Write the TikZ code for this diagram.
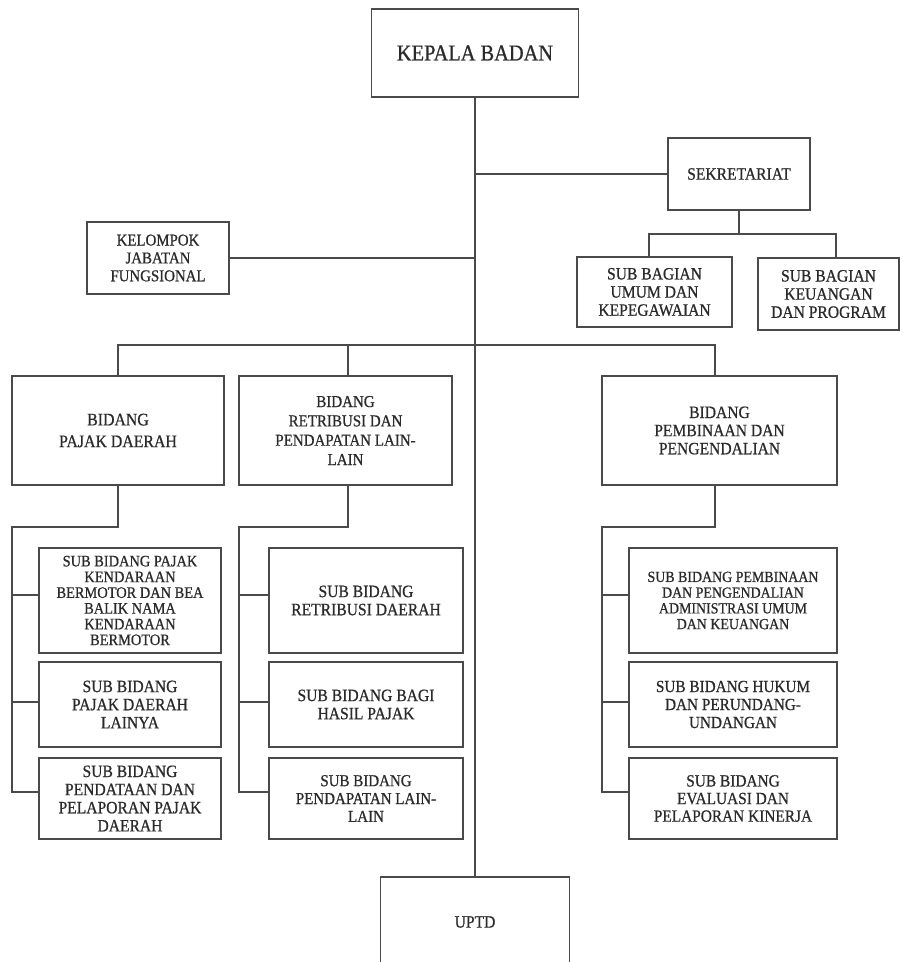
\documentclass[tikz,border=0pt]{standalone}
\usepackage{fontspec}
\setmainfont{Liberation Serif}[FakeStretch=0.9,FakeBold=0.7]
\usetikzlibrary{calc}
\definecolor{linec}{HTML}{4A4A4A}
\definecolor{textc}{HTML}{2A2A2A}
\tikzset{
  orgbox/.style 2 args={draw=linec, line width=1.2pt, fill=white, inner sep=0pt,
    align=center, text=textc, minimum width=#1*0.75pt, minimum height=#2*0.75pt,
    font=\fontsize{13}{13.6}\selectfont},
  conn/.style={draw=linec, line width=1.2pt, line cap=rect}
}
\begin{document}
\begin{tikzpicture}[x=0.75pt, y=-0.75pt]
\useasboundingbox (0,0) rectangle (902,962);
\fill[white] (0,0) rectangle (902,962);

% top level
\node[orgbox={207}{88}, font=\fontsize{17}{18}\selectfont] (kepala) at (475,53) {KEPALA BADAN};
\node[orgbox={142}{72}] (sekr) at (739,174) {SEKRETARIAT};
\node[orgbox={142}{72}, font=\fontsize{12.4}{13.4}\selectfont] (kelompok) at (158,258) {KELOMPOK\\JABATAN\\FUNGSIONAL};
\node[orgbox={155}{70}] (sbumum) at (654.5,292) {SUB BAGIAN\\UMUM DAN\\KEPEGAWAIAN};
\node[orgbox={141}{72}] (sbkeu) at (828.5,294) {SUB BAGIAN\\KEUANGAN\\DAN PROGRAM};

% bidang
\node[orgbox={212}{109}, font=\fontsize{13.2}{16.3}\selectfont] (bpajak) at (118,430.5) {BIDANG\\PAJAK DAERAH};
\node[orgbox={213}{109}, font=\fontsize{12.5}{14.5}\selectfont] (bretr) at (345.5,430.5) {BIDANG\\RETRIBUSI DAN\\PENDAPATAN LAIN-\\LAIN};
\node[orgbox={235}{109}] (bpemb) at (719.5,430.5) {BIDANG\\PEMBINAAN DAN\\PENGENDALIAN};

% sub bidang column 1
\node[orgbox={182}{105}, font=\fontsize{12}{11.8}\selectfont] (s11) at (130,600.5) {SUB BIDANG PAJAK\\KENDARAAN\\BERMOTOR DAN BEA\\BALIK NAMA\\KENDARAAN\\BERMOTOR};
\node[orgbox={182}{85}] (s12) at (130,704.5) {SUB BIDANG\\PAJAK DAERAH\\LAINYA};
\node[orgbox={182}{81}] (s13) at (130,798.5) {SUB BIDANG\\PENDATAAN DAN\\PELAPORAN PAJAK\\DAERAH};

% sub bidang column 2
\node[orgbox={194}{105}] (s21) at (366,600.5) {SUB BIDANG\\RETRIBUSI DAERAH};
\node[orgbox={194}{85}] (s22) at (366,704.5) {SUB BIDANG BAGI\\HASIL PAJAK};
\node[orgbox={194}{81}, font=\fontsize{12.5}{13.4}\selectfont] (s23) at (366,798.5) {SUB BIDANG\\PENDAPATAN LAIN-\\LAIN};

% sub bidang column 3
\node[orgbox={208}{105}, font=\fontsize{11.6}{11.8}\selectfont] (s31) at (733,600.5) {SUB BIDANG PEMBINAAN\\DAN PENGENDALIAN\\ADMINISTRASI UMUM\\DAN KEUANGAN};
\node[orgbox={208}{85}, font=\fontsize{12.7}{13.5}\selectfont] (s32) at (733,704.5) {SUB BIDANG HUKUM\\DAN PERUNDANG-\\UNDANGAN};
\node[orgbox={208}{81}, font=\fontsize{12.8}{13.2}\selectfont] (s33) at (733,798.5) {SUB BIDANG\\EVALUASI DAN\\PELAPORAN KINERJA};

% UPTD
\node[orgbox={189}{90}] (uptd) at (475,922) {UPTD};

% ---- connectors ----
\draw[conn] (kepala.south) -- (uptd.north);
\draw[conn] (kepala.south |- sekr.west) -- (sekr.west);
\draw[conn] (kelompok.east) -- (kepala.south |- kelompok.east);

% sekretariat children
\coordinate (sj) at ($(sekr.south)+(0,23)$);
\draw[conn] (sekr.south) -- (sj);
\draw[conn] ([xshift=-4.1pt]sbumum.north) |- (sj) -| ([xshift=5.6pt]sbkeu.north);

% bus to bidang
\coordinate (busy) at (0,345);
\draw[conn] (bpajak.north) |- (busy -| bpajak.north) -| ([xshift=-3.4pt]bpemb.north);
\draw[conn] ([xshift=1.9pt]bretr.north) -- ([xshift=1.9pt]bretr.north |- busy);

% column 1 tree
\coordinate (c1y) at (0,527);
\draw[conn] (bpajak.south) -- (bpajak.south |- c1y) -| (12,792) -- (s13.west |- 0,792);
\draw[conn] (12,595) -- (s11.west |- 0,595);
\draw[conn] (12,702) -- (s12.west |- 0,702);

% column 2 tree
\draw[conn] ([xshift=1.9pt]bretr.south) -- ([xshift=1.9pt]bretr.south |- c1y) -| (239,792) -- (s23.west |- 0,792);
\draw[conn] (239,595) -- (s21.west |- 0,595);
\draw[conn] (239,702) -- (s22.west |- 0,702);

% column 3 tree
\draw[conn] ([xshift=-3.4pt]bpemb.south) -- ([xshift=-3.4pt]bpemb.south |- c1y) -| (602,792) -- (s33.west |- 0,792);
\draw[conn] (602,595) -- (s31.west |- 0,595);
\draw[conn] (602,702) -- (s32.west |- 0,702);
\end{tikzpicture}
\end{document}
